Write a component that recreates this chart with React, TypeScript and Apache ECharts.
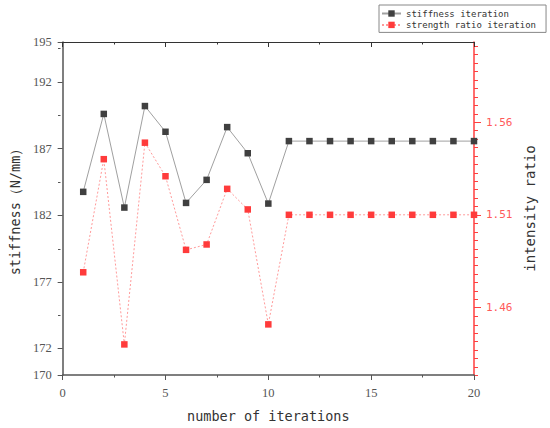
import React, { useEffect, useRef } from "react";
import * as echarts from "echarts";

const iterations = [1, 2, 3, 4, 5, 6, 7, 8, 9, 10, 11, 12, 13, 14, 15, 16, 17, 18, 19, 20];
const stiffness = [183.75, 189.6, 182.57, 190.19, 188.26, 182.92, 184.65, 188.61, 186.65, 182.87,
  187.56, 187.56, 187.56, 187.56, 187.56, 187.56, 187.56, 187.56, 187.56, 187.56];
const strengthRatio = [1.479, 1.54, 1.4401, 1.5489, 1.5308, 1.4911, 1.494, 1.524, 1.5129, 1.4509,
  1.51, 1.51, 1.51, 1.51, 1.51, 1.51, 1.51, 1.51, 1.51, 1.51];
const leftTickLabels = [170, 172, 177, 182, 187, 192, 195];
const leftMinorTicks = [174.5, 179.5, 184.5, 189.5, 194.5];
const rightTickLabels = [1.46, 1.51, 1.56];

const rightMinorTicks: number[] = [];
for (let k = -8; k <= 31; k++) {
  if (k % 11 !== 0) rightMinorTicks.push(1.46 + (k * 0.05) / 11);
}

const GRAY = "#555";
const RED = "#ff3f3f";
const SERIF = "'Liberation Serif', serif";
const MONO = "'DejaVu Sans Mono', monospace";
const GRID = { left: 60.5, right: 76, top: 42, bottom: 52.5 };

export default function App() {
  const ref = useRef<HTMLDivElement>(null);
  useEffect(() => {
    document.body.style.margin = "0";
    const chart = echarts.init(ref.current!, null, { renderer: "svg" });
    chart.setOption({
      animation: false,
      backgroundColor: "#fff",
      grid: [GRID, GRID],
      legend: {
        orient: "vertical",
        left: 379,
        top: 5,
        padding: [4, 10, 3, 2],
        itemGap: 2.4,
        itemWidth: 19,
        itemHeight: 8,
        borderColor: "#888",
        borderWidth: 1,
        backgroundColor: "#fff",
        textStyle: { fontFamily: MONO, fontSize: 9, color: "#333", lineHeight: 9 },
        data: ["stiffness iteration", "strength ratio iteration"],
      },
      xAxis: [
        {
          type: "value", gridIndex: 0, position: "bottom", min: 0, max: 20, interval: 5,
          axisLine: { onZero: false, lineStyle: { color: GRAY, width: 1.5 } },
          axisTick: { length: 5, lineStyle: { color: GRAY, width: 1 } },
          minorTick: { show: true, splitNumber: 2, length: 2.5, lineStyle: { color: GRAY, width: 1 } },
          axisLabel: { fontFamily: SERIF, fontSize: 12.5, color: GRAY, margin: 11 },
          splitLine: { show: false },
          name: "number of iterations", nameLocation: "middle", nameGap: 34,
          nameTextStyle: { fontFamily: MONO, fontSize: 13.5, color: "#333" },
        },
        {
          type: "value", gridIndex: 0, position: "top", min: 0, max: 20, interval: 5,
          axisLine: { onZero: false, lineStyle: { color: "#333", width: 1.2 } },
          axisTick: { inside: true, length: 5, lineStyle: { color: "#333", width: 1 } },
          minorTick: { show: true, splitNumber: 2, length: 2.5, lineStyle: { color: "#333", width: 1 } },
          axisLabel: { show: false }, splitLine: { show: false },
        },
        { type: "value", gridIndex: 1, show: false, min: 0, max: 20, axisLine: { onZero: false } },
      ],
      yAxis: [
        {
          type: "value", gridIndex: 0, position: "left", min: 170, max: 195,
          axisLine: { show: true, onZero: false, lineStyle: { color: GRAY, width: 1.5 } },
          axisTick: { show: true, customValues: leftTickLabels, length: 5, lineStyle: { color: GRAY, width: 1 } },
          axisLabel: { customValues: leftTickLabels, fontFamily: SERIF, fontSize: 12.5, color: GRAY, margin: 11 },
          splitLine: { show: false },
          name: "stiffness（N/mm）", nameLocation: "middle", nameGap: 40,
          nameTextStyle: { fontFamily: MONO, fontSize: 13.5, color: "#333" },
        },
        {
          type: "value", gridIndex: 0, position: "right", min: 1.4236, max: 1.6032,
          axisLine: { show: true, onZero: false, lineStyle: { color: RED, width: 1.5 } },
          axisTick: { show: true, customValues: rightTickLabels, length: 7, lineStyle: { color: RED, width: 1 } },
          axisLabel: {
            customValues: rightTickLabels, formatter: (v: number) => v.toFixed(2),
            fontFamily: MONO, fontSize: 11, color: "#ff5a5a", margin: 12,
          },
          splitLine: { show: false },
          name: "intensity ratio", nameLocation: "middle", nameRotate: 90, nameGap: 48,
          nameTextStyle: { fontFamily: MONO, fontSize: 14, color: "#333" },
        },
        {
          type: "value", gridIndex: 1, position: "left", min: 170, max: 195,
          axisLine: { show: false, onZero: false },
          axisTick: { show: true, customValues: leftMinorTicks, length: 2.5, lineStyle: { color: GRAY, width: 1 } },
          axisLabel: { show: false }, splitLine: { show: false },
        },
        {
          type: "value", gridIndex: 1, position: "right", min: 1.4236, max: 1.6032,
          axisLine: { show: false, onZero: false },
          axisTick: { show: true, customValues: rightMinorTicks, length: 4, lineStyle: { color: RED, width: 1 } },
          axisLabel: { show: false }, splitLine: { show: false },
        },
      ],
      series: [
        {
          name: "stiffness iteration", type: "line", xAxisIndex: 0, yAxisIndex: 0,
          data: iterations.map((x, i) => [x, stiffness[i]]),
          symbol: "rect", symbolSize: 6.5, itemStyle: { color: "#404040" },
          lineStyle: { color: "#a0a0a0", width: 1 }, clip: false,
        },
        {
          name: "strength ratio iteration", type: "line", xAxisIndex: 0, yAxisIndex: 1,
          data: iterations.map((x, i) => [x, strengthRatio[i]]),
          symbol: "rect", symbolSize: 6.5, itemStyle: { color: "#ff3b3b" },
          lineStyle: { color: "#ff9a9a", width: 1, type: [2, 2] }, clip: false,
        },
      ],
    });
    return () => chart.dispose();
  }, []);
  return <div ref={ref} style={{ width: 550, height: 428 }} />;
}
